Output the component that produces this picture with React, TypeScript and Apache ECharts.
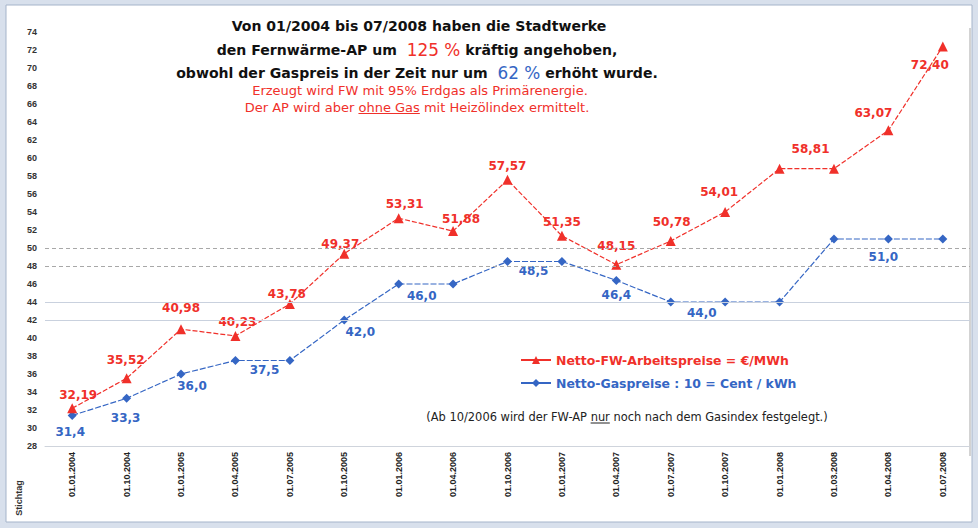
import React, { useEffect, useRef } from "react";
import * as echarts from "echarts";

const categories = [
  "01.01.2004", "01.10.2004", "01.01.2005", "01.04.2005", "01.07.2005",
  "01.10.2005", "01.01.2006", "01.04.2006", "01.10.2006", "01.01.2007",
  "01.04.2007", "01.07.2007", "01.10.2007", "01.01.2008", "01.03.2008",
  "01.04.2008", "01.07.2008",
];
const fwPrices = [32.19, 35.52, 40.98, 40.23, 43.78, 49.37, 53.31, 51.88, 57.57, 51.35, 48.15, 50.78, 54.01, 58.81, 58.81, 63.07, 72.4];
const gasPrices = [31.4, 33.3, 36.0, 37.5, 37.5, 42.0, 46.0, 46.0, 48.5, 48.5, 46.4, 44.0, 44.0, 44.0, 51.0, 51.0, 51.0];
const yMin = 28;
const yMax = 74;
const yStep = 2;
const dashedRefLines = [50, 48];
const solidRefLines = [44, 42];

const FW_NAME = "Netto-FW-Arbeitspreise = €/MWh";
const GAS_NAME = "Netto-Gaspreise : 10 = Cent / kWh";

// label placement (style only)
const fwLabelOffsets: (number[] | null)[] = [
  [6, -13], [-1, -18], [0, -21], [2, -14], [-3, -10], [-4, -10], [6, -14], [8, -12], [0, -14],
  [0, -14], [0, -19], [1, -19], [-6, -20], [31, -20], null, [-15, -17], [-13, 19],
];
const gasLabelOffsets: (number[] | null)[] = [
  [-2, 17], [-1, 20], [11, 12], [29, 9], null, [16, 12], [23, 12], null, [26, 9],
  null, [0, 15], [31, 11], null, null, null, [-5, 18], null,
];

const RED = "#f0302a";
const BLUE = "#3566c4";
const FONT = "Liberation Sans";
const WIDE = "DejaVu Sans";

function measure(text: string, font: string): number {
  const c = document.createElement("canvas").getContext("2d");
  if (!c) return text.length * 6;
  c.font = font;
  return c.measureText(text).width;
}
function fit(text: string, weight: string, family: string, target: number): number {
  const w = measure(text, `${weight} 20px ${family}`);
  return w > 0 ? (20 * target) / w : 12;
}

export default function App() {
  const ref = useRef<HTMLDivElement>(null);
  useEffect(() => {
    if (!ref.current) return;
    const chart = echarts.init(ref.current, undefined, { renderer: "svg" });

    const fmt = (d: number) => (v: number) => v.toFixed(d).replace(".", ",");
    const mk = (vals: number[], offs: (number[] | null)[], dec: number, color: string) =>
      vals.map((v, i) => ({
        value: v,
        label: offs[i]
          ? {
              show: true,
              position: "inside",
              offset: offs[i],
              formatter: () => fmt(dec)(v),
              color,
              fontFamily: WIDE,
              fontWeight: "bold",
              fontSize: 12,
            }
          : { show: false },
      }));

    const line1 = "Von 01/2004 bis 07/2008 haben die Stadtwerke";
    const tSize = Math.min(16, Math.max(12, fit(line1, "bold", WIDE, 375)));
    const cSize = tSize * 1.2;

    const line4 = "Erzeugt wird FW mit 95% Erdgas als Primärenergie.";
    const sSize = Math.min(13, Math.max(9, fit(line4, "normal", WIDE, 346)));
    const smallFont = `${sSize}px ${WIDE}`;
    const l5a = "Der AP wird aber ";
    const l5b = "ohne Gas";
    const l5c = " mit Heizölindex ermittelt.";
    const l5W = measure(l5a + l5b + l5c, smallFont);
    const l5cx = 417;
    const ul1x = l5cx - l5W / 2 + measure(l5a, smallFont);
    const ul1w = measure(l5b, smallFont);

    const nA = "(Ab 10/2006 wird der FW-AP ";
    const nB = "nur";
    const nC = " noch nach dem Gasindex festgelegt.)";
    const nSize = Math.min(12, Math.max(8, fit(nA + nB + nC, "normal", WIDE, 402)));
    const noteFont = `${nSize}px ${WIDE}`;
    const nW = measure(nA + nB + nC, noteFont);
    const ncx = 627;
    const ul2x = ncx - nW / 2 + measure(nA, noteFont);
    const ul2w = measure(nB, noteFont);

    const lSize = Math.min(14, Math.max(10, fit(FW_NAME, "bold", WIDE, 233)));

    const titleRich = {
      b: { font: `bold ${tSize}px ${WIDE}`, fill: "#111" },
      r: { font: `${cSize}px ${WIDE}`, fill: RED },
      u: { font: `${cSize}px ${WIDE}`, fill: BLUE },
    };

    chart.setOption({
      animation: false,
      backgroundColor: "#d8e0ec",
      graphic: [
        {
          type: "rect",
          z: -10,
          shape: { x: 6, y: 5, width: 966, height: 517 },
          style: { fill: "#ffffff", stroke: "#a5b4ca", lineWidth: 1 },
        },
        {
          type: "line",
          shape: { x1: 970, y1: 28, x2: 970, y2: 456 },
          style: { stroke: "#c4c4c4", lineWidth: 1.5 },
        },
        {
          type: "text", x: 419, y: 26,
          style: { text: `{b|${line1}}`, rich: titleRich, align: "center", verticalAlign: "middle" },
        },
        {
          type: "text", x: 417, y: 50,
          style: { text: "{b|den Fernwärme-AP um  }{r|125 %}{b| kräftig angehoben,}", rich: titleRich, align: "center", verticalAlign: "middle" },
        },
        {
          type: "text", x: 417, y: 73,
          style: { text: "{b|obwohl der Gaspreis in der Zeit nur um  }{u|62 %}{b| erhöht wurde.}", rich: titleRich, align: "center", verticalAlign: "middle" },
        },
        {
          type: "text", x: 420, y: 90,
          style: { text: line4, font: smallFont, fill: RED, align: "center", verticalAlign: "middle" },
        },
        {
          type: "text", x: l5cx, y: 107,
          style: { text: l5a + l5b + l5c, font: smallFont, fill: RED, align: "center", verticalAlign: "middle" },
        },
        {
          type: "line",
          shape: { x1: ul1x, y1: 113.5, x2: ul1x + ul1w, y2: 113.5 },
          style: { stroke: RED, lineWidth: 1 },
        },
        {
          type: "text", x: ncx, y: 417,
          style: { text: nA + nB + nC, font: noteFont, fill: "#222", align: "center", verticalAlign: "middle" },
        },
        {
          type: "line",
          shape: { x1: ul2x, y1: 423, x2: ul2x + ul2w, y2: 423 },
          style: { stroke: "#222", lineWidth: 1 },
        },
        {
          type: "text", x: 19, y: 498, rotation: Math.PI / 2,
          style: { text: "Stichtag", font: `bold 9px ${FONT}`, fill: "#333", align: "center", verticalAlign: "middle" },
        },
      ],
      grid: { left: 45, right: 8, top: 32, bottom: 82, containLabel: false },
      legend: {
        left: 515,
        top: 349,
        orient: "vertical",
        itemWidth: 30,
        itemHeight: 10,
        itemGap: 11,
        lineStyle: { type: "solid" },
        data: [
          { name: FW_NAME, textStyle: { color: RED } },
          { name: GAS_NAME, textStyle: { color: BLUE } },
        ],
        textStyle: { fontFamily: WIDE, fontWeight: "bold", fontSize: lSize },
      },
      xAxis: {
        type: "category",
        data: categories,
        boundaryGap: true,
        axisLine: { lineStyle: { color: "#cfd4dc" } },
        axisTick: { show: false },
        axisLabel: {
          rotate: 90,
          interval: 0,
          fontSize: 9,
          fontWeight: "bold",
          fontFamily: FONT,
          color: "#222",
          margin: 6,
        },
        splitLine: { show: false },
      },
      yAxis: {
        type: "value",
        min: yMin,
        max: yMax,
        interval: yStep,
        axisLine: { show: false },
        axisTick: { show: false },
        splitLine: { show: false },
        axisLabel: { fontSize: 9, fontWeight: "bold", fontFamily: FONT, color: "#333", margin: 8 },
      },
      series: [
        {
          name: FW_NAME,
          type: "line",
          data: mk(fwPrices, fwLabelOffsets, 2, RED),
          symbol: "triangle",
          symbolSize: 10,
          itemStyle: { color: RED },
          lineStyle: { color: RED, width: 1.2, type: [5, 2] },
          z: 4,
          markLine: {
            silent: true,
            symbol: "none",
            label: { show: false },
            data: [
              ...dashedRefLines.map((v) => ({ yAxis: v, lineStyle: { color: "#a8a8a8", type: [4, 3], width: 1 } })),
              ...solidRefLines.map((v) => ({ yAxis: v, lineStyle: { color: "#c9d1de", type: "solid", width: 1 } })),
            ],
          },
        },
        {
          name: GAS_NAME,
          type: "line",
          data: mk(gasPrices, gasLabelOffsets, 1, BLUE),
          symbol: "diamond",
          symbolSize: 9,
          itemStyle: { color: BLUE },
          lineStyle: { color: BLUE, width: 1.2, type: [6, 2] },
          z: 3,
        },
      ],
    });
    return () => chart.dispose();
  }, []);
  return <div ref={ref} style={{ position: "fixed", left: 0, top: 0, width: 978, height: 528 }} />;
}
